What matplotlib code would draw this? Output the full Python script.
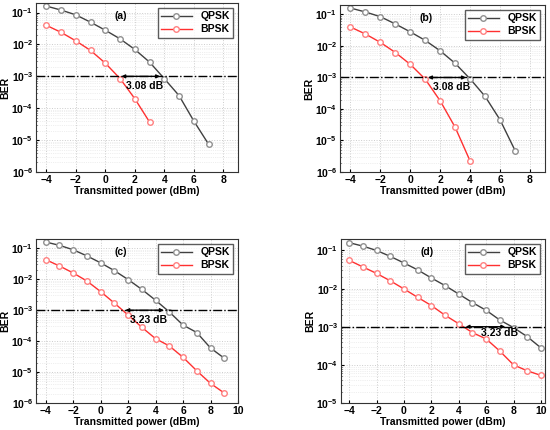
import matplotlib
matplotlib.use("Agg")
import matplotlib.pyplot as plt
from matplotlib.ticker import LogLocator, NullFormatter

plt.rcParams['font.family'] = ['Liberation Sans', 'DejaVu Sans']

labels = ["(a)", "(b)", "(c)", "(d)"]
q_x = [list(range(-4, 8)), list(range(-4, 8)), list(range(-4, 10)), list(range(-4, 11))]
q_y = [
    [0.16, 0.12, 0.085, 0.05, 0.028, 0.015, 0.007, 0.0028, 0.00085, 0.00025, 4e-5, 7.5e-6],
    [0.16, 0.12, 0.085, 0.05, 0.028, 0.015, 0.007, 0.0028, 0.0009, 0.00025, 4.5e-5, 4.8e-6],
    [0.16, 0.125, 0.09, 0.057, 0.034, 0.019, 0.0098, 0.0047, 0.0021, 0.00088, 0.00033, 0.00019, 6e-5, 2.8e-5],
    [0.16, 0.13, 0.1, 0.07, 0.047, 0.031, 0.019, 0.012, 0.0072, 0.0043, 0.0027, 0.0015, 0.00095, 0.00055, 0.00028],
]
b_x = [list(range(-4, 4)), list(range(-4, 5)), list(range(-4, 10)), list(range(-4, 11))]
b_y = [
    [0.04, 0.024, 0.013, 0.0065, 0.0026, 0.00085, 0.0002, 3.7e-5],
    [0.04, 0.024, 0.013, 0.0062, 0.0026, 0.00088, 0.00018, 2.6e-5, 2.2e-6],
    [0.043, 0.027, 0.016, 0.0088, 0.004, 0.0017, 0.0007, 0.00028, 0.00012, 7e-5, 3e-5, 1.1e-5, 4.3e-6, 2.1e-6],
    [0.055, 0.037, 0.025, 0.016, 0.0098, 0.0059, 0.0036, 0.002, 0.0012, 0.0007, 0.00048, 0.00023, 0.0001, 7e-5, 5.3e-5],
]
gap_from = [0.9, 1.0, 1.6, 4.3]
gap_to = [3.9, 3.9, 4.8, 7.6]
gap_text = ["3.08 dB", "3.08 dB", "3.23 dB", "3.23 dB"]
xlims = [(-4.7, 9), (-4.7, 9), (-4.7, 10), (-4.6, 10.3)]
ylims = [(1e-6, 0.2), (1e-6, 0.2), (1e-6, 0.2), (1e-5, 0.2)]
rects = [[36, 3, 238, 172], [340, 5, 545, 172], [36, 239, 238, 403], [341, 239, 545, 403]]

W, H = 550, 430
fig = plt.figure(figsize=(W / 100, H / 100), dpi=100)
for i in range(4):
    x0, y0, x1, y1 = rects[i]
    ax = fig.add_axes([x0 / W, 1 - y1 / H, (x1 - x0) / W, (y1 - y0) / H])
    ax.set_yscale('log')
    ax.plot(q_x[i], q_y[i], '-o', color='#404040', lw=1, ms=4, mfc='white', mec='#909090', label='QPSK')
    ax.plot(b_x[i], b_y[i], '-o', color='#ff3030', lw=1, ms=4, mfc='white', mec='#ff8080', label='BPSK')
    ax.axhline(1e-3, color='black', ls='-.', lw=1)
    ax.annotate('', xy=(gap_from[i], 1e-3), xytext=(gap_to[i], 1e-3),
                arrowprops=dict(arrowstyle='<|-|>', color='black', lw=1, mutation_scale=5))
    tx = (gap_from[i] + gap_to[i]) / 2 + (1.0 if i == 3 else 0.3)
    ax.text(tx, 7e-4 if i != 3 else 9.5e-4, gap_text[i], ha='center', va='top', fontsize=7.5, fontweight='bold')
    ax.text(0.42, 0.95, labels[i], transform=ax.transAxes, ha='center', va='top', fontsize=7.5, fontweight='bold')
    ax.set_xlim(*xlims[i])
    ax.set_ylim(*ylims[i])
    ax.set_xticks(range(-4, int(xlims[i][1]) + 1, 2))
    ax.yaxis.set_minor_locator(LogLocator(base=10, subs=range(2, 10), numticks=20))
    ax.yaxis.set_minor_formatter(NullFormatter())
    ax.grid(True, which='major', color='#cccccc', ls=':', lw=0.7)
    ax.grid(True, which='minor', axis='y', color='#e0e0e0', ls=':', lw=0.5)
    ax.set_xlabel('Transmitted power (dBm)', fontsize=7.5, fontweight='bold', labelpad=1)
    ax.set_ylabel('BER', fontsize=7.5, fontweight='bold', labelpad=1)
    ax.tick_params(labelsize=7.5, direction='in', length=2, pad=2)
    ax.tick_params(which='minor', length=1, direction='in')
    for lab in ax.get_xticklabels() + ax.get_yticklabels():
        lab.set_fontweight('bold')
    leg = ax.legend(loc='upper right', fontsize=7.5, frameon=True, fancybox=False, edgecolor='#333333',
                    handlelength=3, borderpad=0.3, labelspacing=0.3)
    for t in leg.get_texts():
        t.set_fontweight('bold')
    for s in ax.spines.values():
        s.set_color('#333333')
fig.savefig('out.png', dpi=100)
